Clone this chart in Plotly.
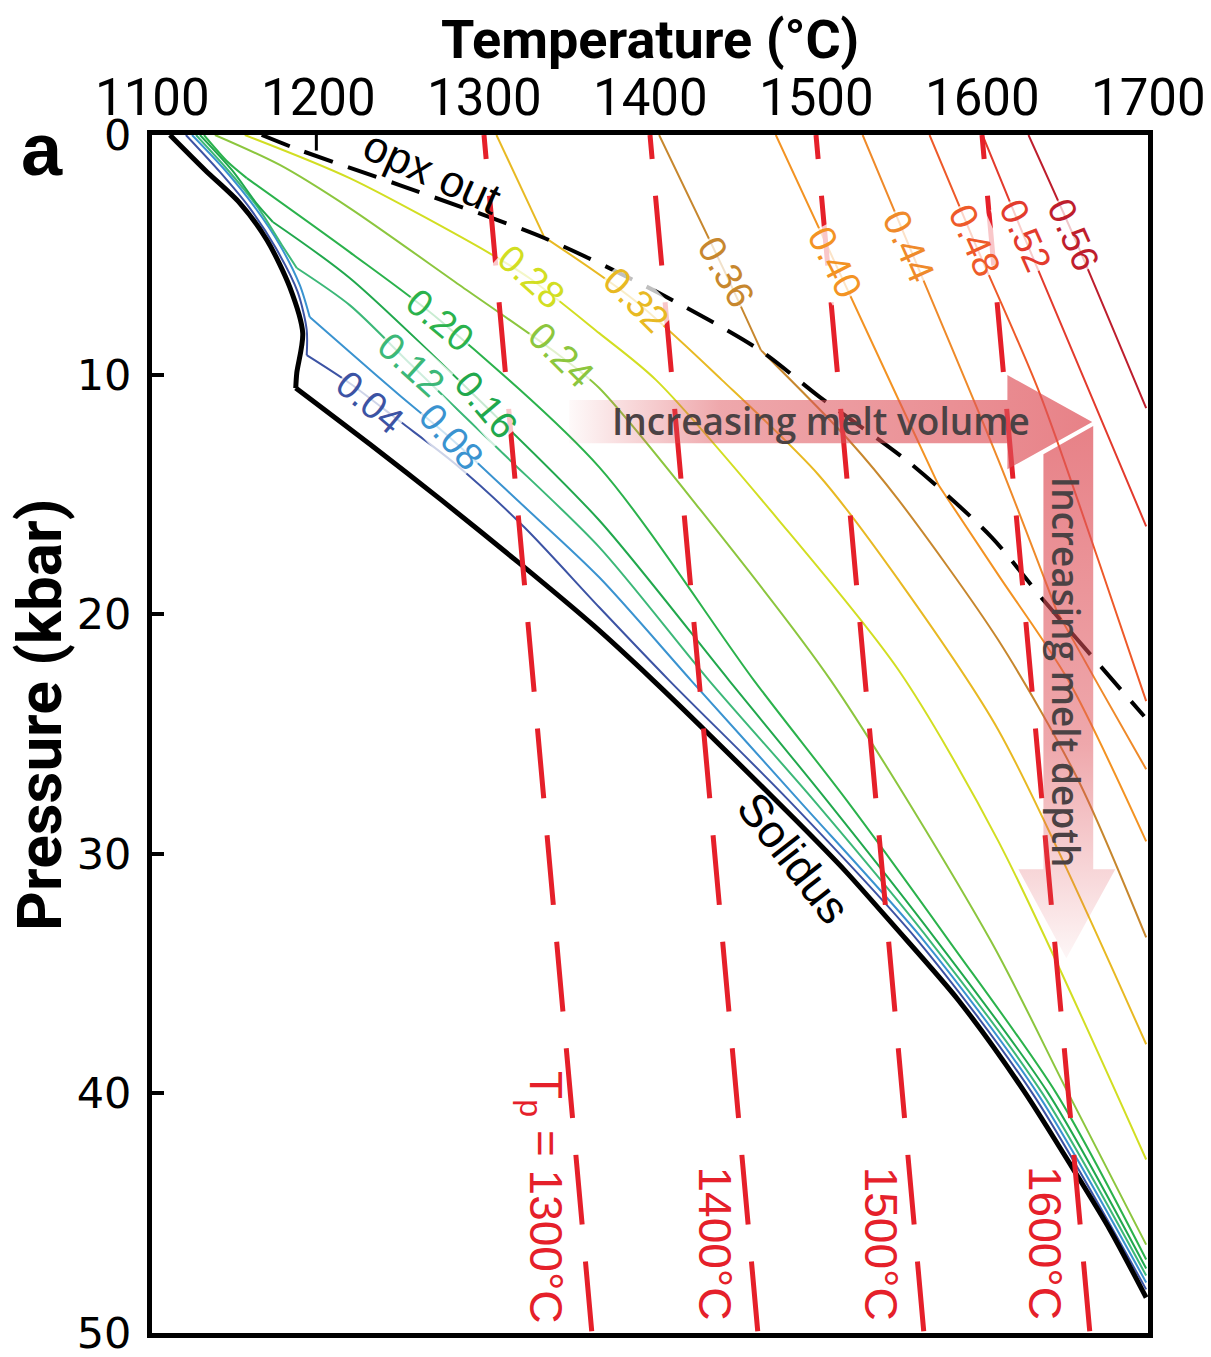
import plotly.graph_objects as go

# ---------------- data ----------------
T_TICKS = [1100, 1200, 1300, 1400, 1500, 1600, 1700]
P_TICKS = [0, 10, 20, 30, 40, 50]

SOLIDUS_T = [1110.8, 1131.9, 1152.9, 1169.2, 1183.0, 1190.8, 1187.2, 1186.6, 1231.1, 1274.4,
             1321.3, 1365.8, 1401.9, 1436.1, 1487.9, 1517.3, 1546.8, 1585.9, 1625.0, 1656.2,
             1677.3, 1698.9]
SOLIDUS_P = [0.0, 1.46, 2.84, 4.38, 6.35, 8.27, 9.94, 10.56, 12.90, 15.24,
             17.87, 20.46, 22.76, 25.05, 28.60, 30.69, 32.99, 36.12, 39.87, 43.30,
             45.72, 48.52]
SOLIDUS_KINK = 7  # garnet-in corner

OPX_OUT_T = [1166.1, 1189.0, 1249.1, 1336.3, 1405.5, 1466.2, 1502.3, 1555.8, 1605.7, 1637.6, 1697.7]
OPX_OUT_P = [0.0, 0.63, 2.09, 4.30, 6.60, 8.98, 10.94, 13.65, 16.78, 19.46, 24.26]
OPX_TICK_T = [1199.0, 1199.0]
OPX_TICK_P = [0.0, 0.65]

F04_T = [1120.4, 1140.9, 1158.9, 1174.6, 1187.8, 1193.2, 1193.2, 1219.1, 1249.1, 1282.2, 1324.3,
         1369.4, 1411.5, 1483.6, 1561.2, 1630.4, 1698.9]
F04_P = [0.0, 1.54, 3.05, 4.72, 6.56, 8.14, 9.19, 10.36, 11.94, 13.70, 16.37,
         19.71, 22.76, 27.77, 33.61, 40.00, 48.18]
F08_T = [1124.1, 1143.9, 1161.9, 1177.0, 1189.0, 1195.0, 1219.1, 1249.1, 1279.2, 1321.3,
         1369.4, 1424.7, 1489.7, 1564.8, 1633.4, 1698.9]
F08_P = [0.0, 1.46, 3.01, 4.59, 6.26, 7.60, 9.06, 10.86, 12.61, 15.32,
         18.46, 22.76, 27.77, 33.61, 40.00, 47.89]
F12_T = [1126.5, 1145.7, 1163.7, 1178.2, 1187.2, 1219.1, 1256.3, 1309.3, 1369.4, 1435.5,
         1498.7, 1568.4, 1636.4, 1698.9]
F12_P = [0.0, 1.46, 3.01, 4.59, 5.55, 7.10, 9.60, 13.15, 17.20, 22.76,
         27.77, 33.61, 40.00, 47.60]
F16_T = [1128.9, 1148.1, 1163.7, 1172.8, 1219.1, 1300.2, 1369.4, 1447.6, 1506.5, 1572.6,
         1640.0, 1698.9]
F16_P = [0.0, 1.46, 2.92, 3.63, 5.97, 11.27, 16.08, 22.76, 27.77, 33.61,
         40.00, 47.31]
F20_T = [1131.3, 1145.7, 1157.1, 1219.1, 1273.2, 1369.4, 1462.6, 1518.5, 1579.9, 1644.8, 1698.9]
F20_P = [0.0, 1.13, 1.80, 4.89, 7.72, 13.86, 22.76, 27.77, 33.61, 40.00, 46.93]
F24_T = [1137.9, 1177.0, 1219.1, 1285.2, 1345.3, 1369.4, 1429.5, 1508.9, 1605.1, 1652.0, 1698.9]
F24_P = [0.0, 1.25, 3.05, 6.26, 9.19, 10.56, 15.57, 22.76, 33.61, 40.00, 46.31]
F28_T = [1155.9, 1219.1, 1303.2, 1327.3, 1369.4, 1403.7, 1477.6, 1549.8, 1609.9, 1698.9]
F28_P = [0.0, 1.80, 4.93, 5.97, 8.27, 10.23, 16.08, 22.34, 29.48, 42.76]
F32_T = [1307.5, 1336.3, 1390.4, 1443.4, 1501.7, 1549.8, 1609.9, 1698.9]
F32_P = [0.0, 4.26, 6.89, 10.23, 14.20, 18.58, 24.84, 37.95]
F36_T = [1405.5, 1444.6, 1466.8, 1519.7, 1549.8, 1609.9, 1658.0, 1698.9]
F36_P = [0.0, 5.64, 8.98, 12.73, 15.24, 21.09, 26.93, 33.49]
F40_T = [1475.8, 1510.7, 1549.8, 1573.8, 1609.9, 1652.0, 1698.9]
F40_P = [0.0, 5.22, 11.06, 14.61, 18.37, 22.76, 29.48]
F44_T = [1528.1, 1555.8, 1609.9, 1644.8, 1670.1, 1698.9]
F44_P = [0.0, 4.59, 13.57, 19.83, 22.96, 26.47]
F48_T = [1568.4, 1594.9, 1634.0, 1670.1, 1698.9]
F48_P = [0.0, 4.38, 10.65, 17.75, 23.63]
F52_T = [1600.3, 1625.0, 1698.9]
F52_P = [0.0, 4.18, 16.33]
F56_T = [1628.0, 1655.0, 1698.9]
F56_P = [0.0, 4.18, 11.40]

MELT_LABELS = ["0.04", "0.08", "0.12", "0.16", "0.20", "0.24", "0.28",
               "0.32", "0.36", "0.40", "0.44", "0.48", "0.52", "0.56"]
LABEL_T = [1231.1, 1280.4, 1256.3, 1301.4, 1273.2, 1346.5, 1328.5,
           1391.6, 1445.8, 1511.3, 1555.8, 1595.5, 1626.2, 1655.0]
LABEL_P = [11.15, 12.61, 9.60, 11.27, 7.72, 9.19, 5.93,
           6.89, 5.72, 5.30, 4.63, 4.38, 4.22, 4.18]
# index of the sharp bend in each contour (garnet-in / opx-out), None = smooth
CONTOUR_KINK = [6, 5, 4, 3, 2, None, None, 1, 2, 3, 3, None, None, None]

TP_VALUES = [1300, 1400, 1500, 1600]
TP_T_AT_50 = [1365, 1465, 1565, 1665]
TP_LABEL_TEXT = ["T<sub>p</sub> = 1300°C", "1400°C", "1500°C", "1600°C"]
TP_LABEL_T = [1335.1, 1439.1, 1539.0, 1637.6]
TP_LABEL_P = [44.34, 46.26, 46.26, 46.26]

# ---------------- styling ----------------
COLORS = ["#3c53a4", "#3a93d0", "#3cb878", "#21a84d", "#2bb24c", "#8cc63e", "#d2de22",
          "#e8b923", "#c7872e", "#f39323", "#ef8a2a", "#ee5a2a", "#e33b2d", "#be1e2d"]
LABEL_ANGLES = [40, 48, 42, 50, 40, 45, 42, 45, 60, 63, 66, 66, 66, 66]
RED = "#e5202a"
PINK = "222,80,88"
SANS = "Liberation Sans, Arial, sans-serif"

CONTOURS = [(F04_T, F04_P), (F08_T, F08_P), (F12_T, F12_P), (F16_T, F16_P), (F20_T, F20_P),
            (F24_T, F24_P), (F28_T, F28_P), (F32_T, F32_P), (F36_T, F36_P), (F40_T, F40_P),
            (F44_T, F44_P), (F48_T, F48_P), (F52_T, F52_P), (F56_T, F56_P)]

fig = go.Figure()


def add_curve(xs, ys, kink, line, name):
    """Draw a smooth curve, keeping a sharp corner at index `kink`."""
    parts = [(0, len(xs))] if kink is None else [(0, kink + 1), (kink, len(xs))]
    for a, b in parts:
        fig.add_trace(go.Scatter(x=xs[a:b], y=ys[a:b], mode="lines", name=name,
                                 line=dict(shape="spline", smoothing=0.8, **line),
                                 hoverinfo="skip", showlegend=False))


for (tt, pp), col, name, k in zip(CONTOURS, COLORS, MELT_LABELS, CONTOUR_KINK):
    add_curve(tt, pp, k, dict(color=col, width=2), "F=" + name)

add_curve(SOLIDUS_T, SOLIDUS_P, SOLIDUS_KINK, dict(color="black", width=5), "Solidus")
add_curve(OPX_OUT_T, OPX_OUT_P, None, dict(color="black", width=4, dash="30px,16px"), "opx out")
fig.add_trace(go.Scatter(x=OPX_TICK_T, y=OPX_TICK_P, mode="lines", showlegend=False,
                         line=dict(color="black", width=3), hoverinfo="skip"))

# mantle adiabats; dash phase matched to the figure
tp_dash = "24px,37px" + ",70px,37px" * 12
for tp, tb in zip(TP_VALUES, TP_T_AT_50):
    fig.add_trace(go.Scatter(x=[tp, tb], y=[0, 50], mode="lines", name="Tp %d" % tp,
                             line=dict(color=RED, width=5, dash=tp_dash), hoverinfo="skip",
                             showlegend=False))

# pink arrows (decoration)
H_ARROW_T = [1351.4, 1615.3, 1615.3, 1666.4, 1615.3, 1615.3, 1351.4, 1351.4]
H_ARROW_P = [11.06, 11.06, 10.02, 11.98, 13.95, 12.86, 12.86, 11.06]
V_ARROW_T = [1637.0, 1667.0, 1667.0, 1680.3, 1650.8, 1621.9, 1637.0, 1637.0]
V_ARROW_P = [13.32, 12.15, 30.65, 30.65, 34.36, 30.65, 30.65, 13.32]

fig.add_trace(go.Scatter(
    x=H_ARROW_T, y=H_ARROW_P, mode="lines", fill="toself", line=dict(width=0),
    fillgradient=dict(type="horizontal", start=1345, stop=1670,
                      colorscale=[[0, "rgba(%s,0)" % PINK], [0.3, "rgba(%s,0.5)" % PINK],
                                  [1, "rgba(%s,0.72)" % PINK]]),
    hoverinfo="skip", showlegend=False))
fig.add_trace(go.Scatter(
    x=V_ARROW_T, y=V_ARROW_P, mode="lines", fill="toself", line=dict(width=0),
    fillgradient=dict(type="vertical", start=12, stop=34.4,
                      colorscale=[[0, "rgba(%s,0.72)" % PINK], [0.6, "rgba(%s,0.5)" % PINK],
                                  [1, "rgba(%s,0.05)" % PINK]]),
    hoverinfo="skip", showlegend=False))

ann = []
C = dict(showarrow=False, xanchor="center", yanchor="middle")
for name, t, p, col, ang in zip(MELT_LABELS, LABEL_T, LABEL_P, COLORS, LABEL_ANGLES):
    ann.append(dict(x=t, y=p, xref="x", yref="y", text=name, textangle=ang,
                    font=dict(family=SANS, size=38, color=col),
                    bgcolor="rgba(255,255,255,0.75)", borderpad=0, **C))

for txt, t, p in zip(TP_LABEL_TEXT, TP_LABEL_T, TP_LABEL_P):
    ann.append(dict(x=t, y=p, xref="x", yref="y", text=txt, textangle=90,
                    font=dict(family=SANS, size=46, color=RED), **C))

ann.append(dict(x=1268.4, y=1.54, xref="x", yref="y", text="opx out", textangle=24,
                font=dict(family=SANS, size=44, color="black"), **C))
ann.append(dict(x=1486.7, y=30.19, xref="x", yref="y", text="Solidus", textangle=52,
                font=dict(family=SANS, size=46, color="black"), **C))
ann.append(dict(x=1502.9, y=11.90, xref="x", yref="y", text="Increasing melt volume",
                font=dict(family="Open Sans", size=37, color="#4b4244", weight=600), **C))
ann.append(dict(x=1650.8, y=22.42, xref="x", yref="y", text="Increasing melt depth",
                textangle=90, font=dict(family="Open Sans", size=37, color="#4b4244", weight=600), **C))

# top-axis tick labels (placed closer to the frame than the axis itself allows)
for t in T_TICKS:
    ann.append(dict(x=t, y=1.0309, xref="x", yref="paper", text=str(t),
                    font=dict(family="Roboto", size=51, color="black"), borderpad=0, **C))

# axis titles and panel letter
ann.append(dict(x=0.5, y=1.0793, xref="paper", yref="paper", text="<b>Temperature (°C)</b>",
                font=dict(family="Roboto", size=54, color="black"), borderpad=0, **C))
ann.append(dict(x=-0.1124, y=0.516, xref="paper", yref="paper", text="<b>Pressure (kbar)</b>",
                textangle=-90, font=dict(family="Roboto", size=62, color="black"), borderpad=0, **C))
ann.append(dict(x=-0.110, y=0.9875, xref="paper", yref="paper", text="<b>a</b>",
                font=dict(family=SANS, size=74, color="black"), **C))

# the page adds an 8 px body margin; the figure is sized to fit inside it
fig.update_layout(
    width=1195, height=1341, autosize=False,
    margin=dict(l=144, r=55, t=127, b=16, autoexpand=False),
    paper_bgcolor="white", plot_bgcolor="white",
    showlegend=False, annotations=ann,
    xaxis=dict(range=[1100, 1700], side="top", tickvals=T_TICKS, ticks="", ticklen=0,
               showticklabels=False,
               showline=True, linecolor="black", linewidth=5, mirror=True,
               showgrid=False, zeroline=False),
    yaxis=dict(range=[50, 0], tickvals=P_TICKS, ticks="inside", ticklen=12, tickwidth=4,
               tickcolor="black", showline=True, linecolor="black", linewidth=5, mirror=True,
               showgrid=False, zeroline=False, ticklabelstandoff=7, ticklabeloverflow="allow",
               tickfont=dict(family="DejaVu Sans", size=43, color="black")),
)

fig.write_html("out.html")
